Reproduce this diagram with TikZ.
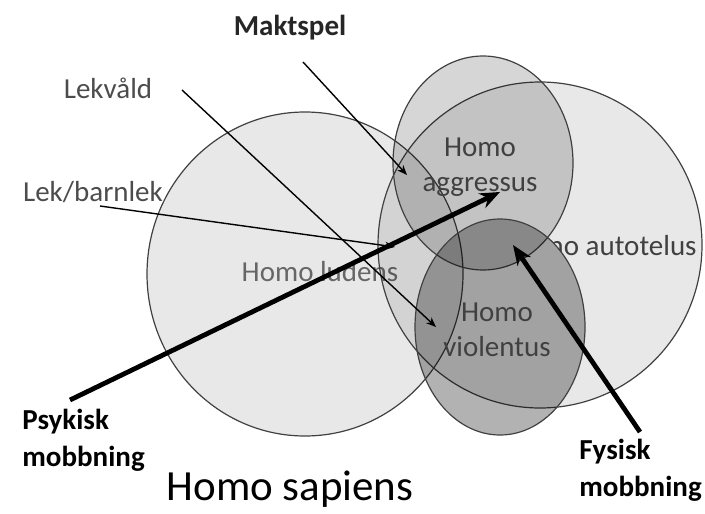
\documentclass[tikz,border=0pt]{standalone}
\usepackage{fontspec}
\setmainfont{Carlito}
\usetikzlibrary{arrows.meta}

\begin{document}
\begin{tikzpicture}[
      x=0.5pt, y=-0.5pt,
      font=\fontsize{14.5}{17.5}\selectfont,
      set/.style={draw=black!75, line width=0.6pt, fill=black},
      lab/.style={align=center, text=black!75, inner sep=0pt},
      side/.style={align=left, text=black!70, inner sep=0pt},
      strong/.style={align=left, font=\fontsize{14.5}{18.5}\selectfont\bfseries, inner sep=0pt},
      thin/.style={-{Stealth[length=5pt,width=4pt]}, line width=0.7pt},
      heavy/.style={-{Stealth[length=10pt,width=8pt]}, line width=2.4pt}
    ]
  \useasboundingbox (0,0) rectangle (705,513);
  % sets
  \path[set, fill opacity=0.09] (305,274) ellipse [x radius=158, y radius=162];
  \node[lab, text=black!60] (ludens) at (320,272) {Homo ludens};
  \path[set, fill opacity=0.09] (540,245) ellipse [x radius=162, y radius=163];
  \begin{scope}[even odd rule]
    \clip (0,0) rectangle (705,513) (500,327) ellipse [x radius=85, y radius=108];
    \node[lab, anchor=east] (autotelus) at (697,246) {Homo autotelus};
  \end{scope}
  \path[set, fill opacity=0.16] (483,163) ellipse [x radius=90, y radius=107];
  \node[lab] (aggressus) at (480,167) {Homo\\aggressus};
  \path[set, fill opacity=0.3] (500,327) ellipse [x radius=85, y radius=108];
  \node[lab] (violentus) at (497,330) {Homo\\violentus};
  % labels
  \node[strong, text=black!85] (makt) at (290,28) {Maktspel};
  \node[side] (lekvald) at (108,88) {Lekvåld};
  \node[side] (lek) at (93,192) {Lek/barnlek};
  \node[strong, anchor=west] (psyk) at (22,440) {Psykisk\\mobbning};
  \node[strong, anchor=west] (fys) at (579,470) {Fysisk\\mobbning};
  \node[font=\fontsize{21.5}{26}\selectfont] (sapiens) at (290,489) {Homo sapiens};
  % line ends
  \coordinate (makt0) at (303,62);
  \coordinate (makt1) at (407,175);
  \coordinate (lekvald0) at (182,90);
  \coordinate (lekvald1) at (436,327);
  \coordinate (lek0) at (100,206);
  \coordinate (lek1) at (395,247);
  \coordinate (psyk0) at (70,400);
  \coordinate (psyk1) at (500,192);
  \coordinate (fys0) at (640,432);
  \coordinate (fys1) at (513,245);
  \draw[thin] (makt0) -- (makt1);
  \draw[thin] (lekvald0) -- (lekvald1);
  \draw[thin] (lek0) -- (lek1);
  \draw[heavy] (psyk0) -- (psyk1);
  \draw[heavy] (fys0) -- (fys1);
\end{tikzpicture}
\end{document}
